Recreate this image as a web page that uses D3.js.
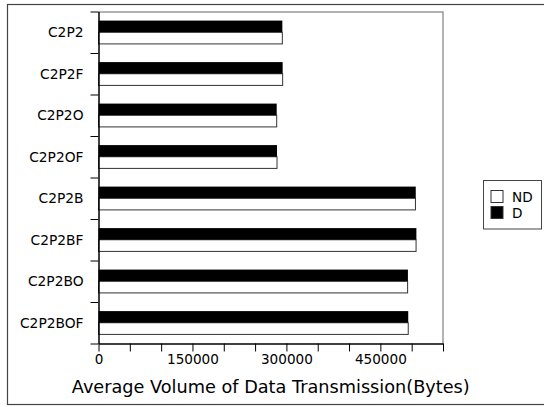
<!DOCTYPE html>
<html>
<head>
<meta charset="utf-8">
<script src="https://cdn.jsdelivr.net/npm/d3@7"></script>
<style>
  body { margin: 0; background: #fff; }
  svg { display: block; font-family: "DejaVu Sans", sans-serif; }
</style>
</head>
<body>
<div id="chart"></div>
<script>
// categories, top to bottom
var categories = ["C2P2", "C2P2F", "C2P2O", "C2P2OF", "C2P2B", "C2P2BF", "C2P2BO", "C2P2BOF"];
// series values (bytes)
var valuesD  = [293500, 294000, 284500, 285000, 506500, 507500, 494000, 494500];
var valuesND = [293500, 294000, 284500, 285000, 506000, 507000, 493500, 494500];
var seriesNames = ["D", "ND"];
var xTickValues = d3.range(0, 550001, 50000);
var xTickLabels = [0, 150000, 300000, 450000];

var svgWidth = 544, svgHeight = 407;
var margin = { top: 11.5, left: 98.5 };
var width = 344.5, height = 332;

var svg = d3.select("#chart").append("svg")
  .attr("width", svgWidth)
  .attr("height", svgHeight);

// outer frame
svg.append("rect")
  .attr("x", 7.5).attr("y", 4.5)
  .attr("width", 545).attr("height", 400)
  .attr("fill", "none")
  .attr("stroke", "#444")
  .attr("stroke-width", 1.2);

var chartGroup = svg.append("g")
  .attr("transform", `translate(${margin.left}, ${margin.top})`);

// scales
var xScale = d3.scaleLinear().domain([0, 550000]).range([0, width]);
var yBand = d3.scaleBand().domain(categories).range([0, height]).padding(0);
var ySub = d3.scaleBand().domain(seriesNames).range([0, yBand.bandwidth()]).paddingOuter(0.78).paddingInner(0);
var yEdge = d3.scaleLinear().domain([0, categories.length]).range([0, height]);

// plot frame (top / right)
chartGroup.append("path")
  .attr("d", `M0,0.5H${width}V${height}`)
  .attr("fill", "none")
  .attr("stroke", "#999")
  .attr("stroke-width", 1.5);

var rows = categories.map(function(c, i) {
  return { cat: c, D: valuesD[i], ND: valuesND[i] };
});

// bars
var rowGroups = chartGroup.selectAll("g.row")
  .data(rows)
  .enter()
  .append("g")
  .attr("class", "row")
  .attr("transform", d => `translate(0, ${yBand(d.cat)})`);

rowGroups.append("rect")
  .attr("x", 0)
  .attr("y", ySub("ND"))
  .attr("width", d => xScale(d.ND))
  .attr("height", ySub.bandwidth())
  .attr("fill", "#fff")
  .attr("stroke", "#333")
  .attr("stroke-width", 1);

rowGroups.append("rect")
  .attr("x", 0)
  .attr("y", ySub("D"))
  .attr("width", d => xScale(d.D))
  .attr("height", ySub.bandwidth())
  .attr("fill", "#000");

// y axis: ticks at category boundaries
var yAxis = d3.axisLeft(yEdge)
  .tickValues(d3.range(categories.length + 1))
  .tickFormat("")
  .tickSize(8)
  .tickSizeOuter(0);
var yAxisG = chartGroup.append("g").call(yAxis);
yAxisG.select(".domain").attr("stroke", "#000").attr("stroke-width", 1.5);
yAxisG.selectAll(".tick line").attr("stroke", "#000");

chartGroup.selectAll("text.cat")
  .data(categories)
  .enter()
  .append("text")
  .attr("class", "cat")
  .attr("x", -15)
  .attr("y", d => yBand(d) + yBand.bandwidth() / 2)
  .attr("dy", "0.36em")
  .attr("text-anchor", "end")
  .attr("font-size", 13.8)
  .attr("fill", "#000")
  .text(d => d);

// x axis
var xAxis = d3.axisBottom(xScale)
  .tickValues(xTickValues)
  .tickSize(8)
  .tickSizeOuter(0)
  .tickFormat(d => xTickLabels.indexOf(d) >= 0 ? d : "");
var xAxisG = chartGroup.append("g")
  .attr("transform", `translate(0, ${height})`)
  .call(xAxis);
xAxisG.select(".domain").attr("stroke", "#000").attr("stroke-width", 1.5);
xAxisG.selectAll(".tick line").attr("stroke", "#000");
xAxisG.selectAll(".tick text")
  .attr("font-family", "DejaVu Sans, sans-serif")
  .attr("font-size", 13.6)
  .attr("fill", "#000")
  .attr("y", 11);

// x axis title
chartGroup.append("text")
  .attr("x", width / 2)
  .attr("y", 381)
  .attr("text-anchor", "middle")
  .attr("font-size", 17.7)
  .attr("fill", "#000")
  .text("Average Volume of Data Transmission(Bytes)");

// legend
var legend = svg.append("g").attr("transform", "translate(483.5, 180.5)");
legend.append("rect")
  .attr("width", 58).attr("height", 48.5)
  .attr("fill", "#fff").attr("stroke", "#444");
var legendItems = [
  { name: "ND", fill: "#fff" },
  { name: "D", fill: "#000" }
];
var li = legend.selectAll("g.item")
  .data(legendItems)
  .enter()
  .append("g")
  .attr("class", "item")
  .attr("transform", (d, i) => `translate(7.5, ${10 + i * 16})`);
li.append("rect")
  .attr("width", 12).attr("height", 12)
  .attr("fill", d => d.fill)
  .attr("stroke", "#333");
li.append("text")
  .attr("x", 21)
  .attr("y", 11)
  .attr("font-size", 13.6)
  .attr("fill", "#000")
  .text(d => d.name);
</script>
</body>
</html>
